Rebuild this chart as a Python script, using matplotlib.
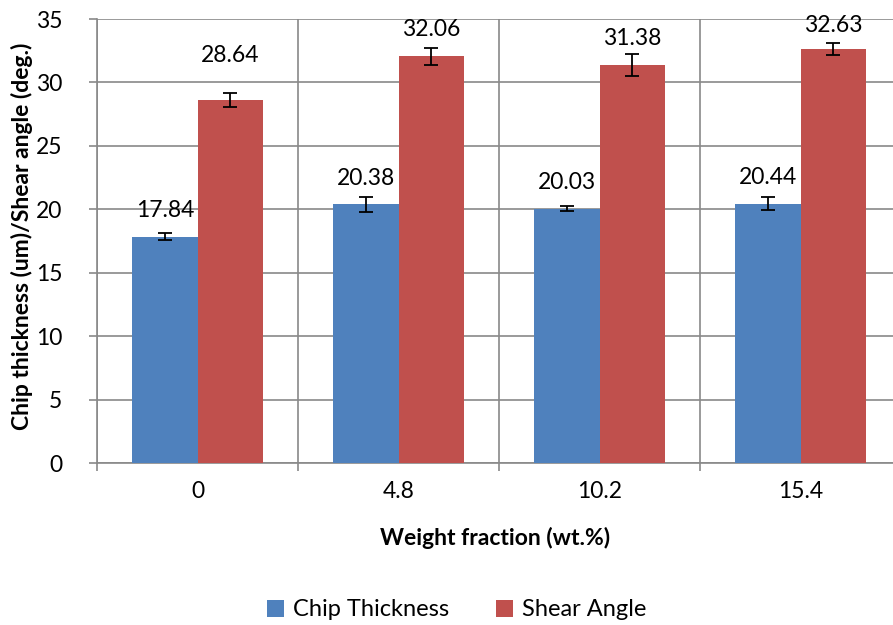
import numpy as np
import matplotlib
matplotlib.use("Agg")
import matplotlib.pyplot as plt
from matplotlib.ticker import MultipleLocator, FixedLocator

# data
categories = ["0", "4.8", "10.2", "15.4"]
chip_thickness = [17.84, 20.38, 20.03, 20.44]
chip_err = [0.3, 0.59, 0.2, 0.5]
shear_angle = [28.64, 32.06, 31.38, 32.63]
shear_err = [0.55, 0.65, 0.85, 0.47]

# label offsets above bar top, in points (one label nudged higher in the original)
chip_label_off = [19, 19, 19, 19]
shear_label_off = [32, 19, 19, 17]

BLUE = "#4F81BD"
RED = "#C0504D"
GRID = "#898989"

plt.rcParams['font.family'] = ['Lato', 'DejaVu Sans']

fig = plt.figure(figsize=(8.93, 6.25), dpi=100)
ax = fig.add_axes([97 / 893, 162 / 625, 1 - 97 / 893, 444 / 625])

x = np.arange(len(categories))
w = 0.325
b1 = ax.bar(x - w / 2, chip_thickness, w, color=BLUE, label="Chip Thickness", zorder=3)
b2 = ax.bar(x + w / 2, shear_angle, w, color=RED, label="Shear Angle", zorder=3)
ax.errorbar(x - w / 2, chip_thickness, yerr=chip_err, fmt="none", ecolor="black",
            elinewidth=1.3, capsize=5, capthick=1.3, zorder=4)
ax.errorbar(x + w / 2, shear_angle, yerr=shear_err, fmt="none", ecolor="black",
            elinewidth=1.3, capsize=5, capthick=1.3, zorder=4)

for bars, vals, offs in [(b1, chip_thickness, chip_label_off), (b2, shear_angle, shear_label_off)]:
    for bar, v, off in zip(bars, vals, offs):
        ax.annotate(f"{v:.2f}", (bar.get_x() + bar.get_width() / 2, v),
                    xytext=(0, off), textcoords="offset points",
                    ha="center", va="center", fontsize=16.5, zorder=5)

ax.set_xlim(-0.5, 3.46)
ax.set_ylim(0, 35)
ax.yaxis.set_major_locator(MultipleLocator(5))
ax.set_xticks(x)
ax.set_xticklabels(categories)
ax.xaxis.set_minor_locator(FixedLocator([-0.5, 0.5, 1.5, 2.5]))
ax.tick_params(axis="x", which="major", length=0, pad=13, labelsize=16.5)
ax.tick_params(axis="x", which="minor", length=6, color=GRID, width=1.2)
ax.tick_params(axis="y", length=6, color=GRID, width=1.2, pad=19, labelsize=16.5)

ax.grid(axis="y", which="major", color=GRID, linewidth=1.2, zorder=0)
ax.grid(axis="x", which="minor", color=GRID, linewidth=1.2, zorder=0)
ax.set_axisbelow(True)
for s in ["top", "right"]:
    ax.spines[s].set_visible(False)
for s in ["left", "bottom"]:
    ax.spines[s].set_color(GRID)
    ax.spines[s].set_linewidth(1.2)

ax.set_ylabel("Chip thickness (um)/Shear angle (deg.)", fontsize=16.5, fontweight="bold",
              va="center")
ax.yaxis.set_label_coords(-0.094, 0.51)
ax.set_xlabel("Weight fraction (wt.%)", fontsize=16.5, fontweight="bold", labelpad=18)

fig.legend(handles=[b1, b2], loc="center", bbox_to_anchor=(457 / 893, 1 - 610 / 625),
           ncol=2, frameon=False, fontsize=17, handlelength=0.7, handleheight=0.7,
           handletextpad=0.4, columnspacing=2.0)

fig.savefig("out.png", dpi=100)
